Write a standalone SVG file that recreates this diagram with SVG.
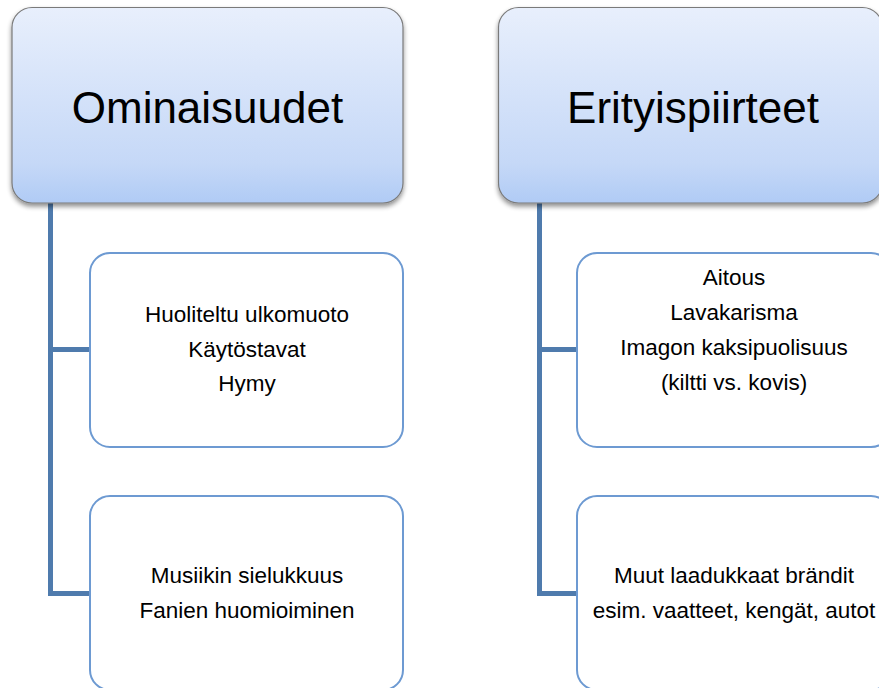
<svg xmlns="http://www.w3.org/2000/svg" width="879" height="688" viewBox="0 0 879 688">
<defs>
<linearGradient id="hg" x1="0" y1="0" x2="0" y2="1">
<stop offset="0" stop-color="#e8effc"/>
<stop offset="0.8" stop-color="#c5d8f7"/>
<stop offset="1" stop-color="#b0cbf5"/>
</linearGradient>
<filter id="sh" x="-10%" y="-10%" width="120%" height="125%">
<feGaussianBlur in="SourceAlpha" stdDeviation="2.5"/>
<feOffset dx="0" dy="3" result="b"/>
<feComponentTransfer><feFuncA type="linear" slope="0.45"/></feComponentTransfer>
<feMerge><feMergeNode/><feMergeNode in="SourceGraphic"/></feMerge>
</filter>
</defs>
<style>
.head{fill:url(#hg);stroke:#7a7a7a;stroke-width:1.2}
.child{fill:#ffffff;stroke:#6d9ad2;stroke-width:2}
.conn{fill:none;stroke:#4f7bad;stroke-width:5}
.ht{font-family:"Liberation Sans",Arial,sans-serif;font-size:44px;fill:#000;text-anchor:middle}
.ct{font-family:"Liberation Sans",Arial,sans-serif;font-size:22.5px;fill:#000;text-anchor:middle}
</style>
<rect width="879" height="688" fill="#ffffff"/>
<g id="connectors">
<path class="conn" d="M50.5 203 V593.5 H91"/>
<path class="conn" d="M50.5 349.5 H91"/>
<path class="conn" d="M539.5 203 V593.5 H578"/>
<path class="conn" d="M539.5 349.5 H578"/>
</g>
<g id="node-ominaisuudet">
<rect class="head" x="12" y="7.5" width="391" height="195.5" rx="20" filter="url(#sh)"/>
<text class="ht" x="207.5" y="123">Ominaisuudet</text>
</g>
<g id="node-erityispiirteet">
<rect class="head" x="498.5" y="7.5" width="384" height="195.5" rx="20" filter="url(#sh)"/>
<text class="ht" x="693" y="123">Erityispiirteet</text>
</g>
<g id="node-ominaisuudet-1">
<rect class="child" x="90" y="253" width="313" height="194" rx="20"/>
<text class="ct" x="247" y="322">Huoliteltu ulkomuoto</text>
<text class="ct" x="247" y="357">Käytöstavat</text>
<text class="ct" x="247" y="391">Hymy</text>
</g>
<g id="node-ominaisuudet-2">
<rect class="child" x="90" y="496" width="313" height="194" rx="20"/>
<text class="ct" x="247" y="583">Musiikin sielukkuus</text>
<text class="ct" x="247" y="618">Fanien huomioiminen</text>
</g>
<g id="node-erityispiirteet-1">
<rect class="child" x="577" y="253" width="314" height="194" rx="20"/>
<text class="ct" x="734" y="285">Aitous</text>
<text class="ct" x="734" y="320">Lavakarisma</text>
<text class="ct" x="734" y="355">Imagon kaksipuolisuus</text>
<text class="ct" x="734" y="390">(kiltti vs. kovis)</text>
</g>
<g id="node-erityispiirteet-2">
<rect class="child" x="577" y="496" width="314" height="194" rx="20"/>
<text class="ct" x="734" y="583">Muut laadukkaat brändit</text>
<text class="ct" x="734" y="618">esim. vaatteet, kengät, autot</text>
</g>
</svg>
